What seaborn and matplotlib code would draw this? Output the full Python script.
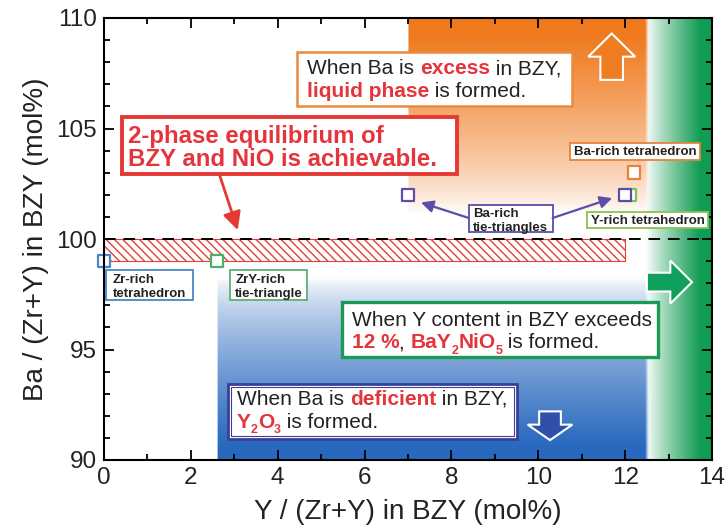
import numpy as np
import pandas as pd
import matplotlib
matplotlib.use("Agg")
import matplotlib.pyplot as plt
import matplotlib.patches as mpatches
import matplotlib.transforms as mtransforms
import seaborn as sns

# ---------------- data ----------------
pt_name = ["Zr-rich tetrahedron", "ZrY-rich tie-triangle", "Ba-rich tie-triangle (low Y)",
           "Y-rich tetrahedron", "Ba-rich tie-triangle (high Y)", "Ba-rich tetrahedron"]
pt_x = [0.0, 2.6, 7.0, 12.1, 12.0, 12.2]
pt_y = [99.0, 99.0, 102.0, 102.0, 102.0, 103.0]
pt_color = ["#4a86c8", "#4caf6a", "#5b4da8", "#7dc34d", "#5b4da8", "#e8823a"]

hatch_x = [0.0, 12.0]          # 2-phase window (Y content)
hatch_y = [99.0, 100.0]        # 2-phase window (Ba content)
stoich_y = 100.0               # dashed stoichiometric line
orange_x = [7.0, 12.55]        # Ba excess region
blue_x = [2.6, 12.55]          # Ba deficient region
green_x = [12.5, 14.0]         # Y > 12 % region

x_ticks = [0, 2, 4, 6, 8, 10, 12, 14]
y_ticks = [90, 95, 100, 105, 110]

# ---------------- style ----------------
sns.set_theme(style="ticks")
plt.rcParams["font.family"] = ["Liberation Sans", "DejaVu Sans"]
plt.rcParams["hatch.linewidth"] = 1.0
FAM = "Liberation Sans"
SMALL = 9.5

RED = "#e4343c"
BLACK = "#222222"

fig = plt.figure(figsize=(7.27, 5.29), dpi=100)
ax = fig.add_axes([104 / 727, 1 - 460 / 529, 608 / 727, 442 / 529])
ax.set_xlim(0, 14)
ax.set_ylim(90, 110)

# ---------------- background gradients ----------------
nx, ny = 700, 400
xs = np.linspace(0, 14, nx)
ys = np.linspace(90, 110, ny)
X, Y = np.meshgrid(xs, ys)
img = np.ones((ny, nx, 3))


def blend(img, rgb, alpha):
    c = np.array(rgb) / 255.0
    return img * (1 - alpha[..., None]) + c * alpha[..., None]


def band(x, lo, hi, soft_hi=0.08):
    return np.clip((x - lo) / 0.02, 0, 1) * np.clip((hi - x) / soft_hi, 0, 1)


a_or = band(X, *orange_x) * np.clip((Y - 101.2) / 8.0, 0, 1) ** 0.75
img = blend(img, (239, 122, 30), a_or)
a_bl = band(X, *blue_x) * np.clip((98.2 - Y) / 7.6, 0, 1) ** 0.7
img = blend(img, (40, 104, 190), a_bl)
a_gr = np.clip((X - green_x[0]) / (green_x[1] - green_x[0] - 0.25), 0, 1) ** 0.85
img = blend(img, (16, 156, 82), a_gr)
ax.imshow(img, extent=(0, 14, 90, 110), origin="lower", aspect="auto",
          zorder=0, interpolation="bilinear")

# hatched 2-phase window
ax.fill_between(hatch_x, hatch_y[0], hatch_y[1], facecolor="none",
                edgecolor="#e0403a", hatch="\\\\\\\\", linewidth=0.8, zorder=1)
ax.axhline(stoich_y, color="black", lw=1.4, dashes=(6, 4), zorder=2)

# ---------------- points ----------------
df = pd.DataFrame({"x": pt_x, "y": pt_y, "name": pt_name})
sns.scatterplot(data=df, x="x", y="y", hue="name", palette=dict(zip(pt_name, pt_color)),
                marker="s", s=80, facecolor="white", linewidth=1.6, legend=False,
                ax=ax, zorder=5, clip_on=False)
coll = ax.collections[-1]
coll.set_edgecolors(pt_color)
coll.set_facecolors(["white"] * len(pt_color))

# ---------------- helpers ----------------
renderer = fig.canvas.get_renderer()


def text_w(s, **kw):
    t = fig.text(0, 0, "x" + s + "x", **kw)
    w = t.get_window_extent(renderer).width
    t.remove()
    t = fig.text(0, 0, "xx", **kw)
    w2 = t.get_window_extent(renderer).width
    t.remove()
    return w - w2


def rich(x, y, segs, size, family=FAM):
    off = 0.0
    for s, color, weight, scale, dy in segs:
        kw = dict(color=color, fontweight=weight, fontsize=size * scale, family=family)
        tr = mtransforms.offset_copy(ax.transData, fig=fig, x=off, y=dy * size, units="dots")
        ax.text(x, y, s, va="baseline", ha="left", transform=tr, zorder=7, **kw)
        off += text_w(s, **kw)


def box(x0, x1, y0, y1, ec, lw):
    ax.add_patch(mpatches.Rectangle((x0, y0), x1 - x0, y1 - y0, facecolor="white",
                                    edgecolor=ec, lw=lw, zorder=6))


def N(s, c=BLACK):
    return (s, c, "normal", 1.0, 0)


def B(s, c=RED):
    return (s, c, "bold", 1.0, 0)


def SUB(s, c=RED):
    return (s, c, "bold", 0.6, -0.35)


# ---------------- Ba excess box ----------------
box(4.45, 10.78, 106.0, 108.45, "#e98a3c", 1.8)
rich(4.68, 107.45, [N("When Ba is "), B("excess"), N(" in BZY,")], 15)
rich(4.68, 106.42, [B("liquid phase"), N(" is formed.")], 15)

# ---------------- 2-phase box ----------------
box(0.42, 8.13, 102.95, 105.5, "#e53935", 2.8)
rich(0.55, 104.35, [B("2-phase equilibrium of")], 17.3)
rich(0.55, 103.3, [B("BZY and NiO is achievable.")], 17.3)
ax.annotate("", xy=(3.08, 100.4), xytext=(2.66, 102.9),
            arrowprops=dict(arrowstyle="-|>,head_length=0.9,head_width=0.45",
                            color="#e53935", lw=2.0, shrinkA=0, shrinkB=0), zorder=6)

# ---------------- small labels ----------------
def small_label(x0, x1, y0, y1, ec, lines, tx, ty, dy=0.62):
    box(x0, x1, y0, y1, ec, 1.3)
    for i, ln in enumerate(lines):
        ax.text(tx, ty - i * dy, ln, fontsize=SMALL, fontweight="bold", family=FAM,
                color=BLACK, va="baseline", ha="left", zorder=7)


small_label(10.73, 13.72, 103.57, 104.34, "#e8823a", ["Ba-rich tetrahedron"], 10.83, 103.78)
small_label(11.12, 13.9, 100.5, 101.2, "#8cc152", ["Y-rich tetrahedron"], 11.22, 100.7)
small_label(8.4, 10.33, 100.32, 101.54, "#5b4da8", ["Ba-rich", "tie-triangles"], 8.5, 101.0)
small_label(0.05, 2.05, 97.24, 98.6, "#4a86c8", ["Zr-rich", "tetrahedron"], 0.2, 98.0)
small_label(2.9, 4.67, 97.24, 98.6, "#5db075", ["ZrY-rich", "tie-triangle"], 3.02, 98.0)

for start, end in [((8.4, 100.95), (7.3, 101.65)), ((10.33, 100.95), (11.7, 101.85))]:
    ax.annotate("", xy=end, xytext=start,
                arrowprops=dict(arrowstyle="-|>,head_length=0.6,head_width=0.3",
                                color="#5b4da8", lw=1.6, shrinkA=0, shrinkB=0), zorder=6)

# ---------------- Y > 12 % box ----------------
box(5.48, 12.75, 94.68, 97.15, "#1b9a55", 2.4)
rich(5.7, 96.05, [N("When Y content in BZY exceeds")], 15)
rich(5.7, 95.05, [B("12 %"), N(", "), B("BaY"), SUB("2"), B("NiO"), SUB("5"), N(" is formed.")], 15)

# ---------------- Ba deficient box ----------------
box(2.85, 9.52, 90.95, 93.45, "#3b3f94", 2.0)
ax.add_patch(mpatches.Rectangle((2.92, 91.1), 9.45 - 2.92, 93.3 - 91.1, facecolor="none",
                                edgecolor="#3b3f94", lw=0.8, zorder=6.5))
rich(3.06, 92.5, [N("When Ba is "), B("deficient"), N(" in BZY,")], 15)
rich(3.06, 91.45, [B("Y"), SUB("2"), B("O"), SUB("3"), N(" is formed.")], 15)

# ---------------- block arrows ----------------
ax.add_patch(mpatches.FancyArrow(11.69, 107.2, 0, 2.1, width=0.52, head_width=1.08,
                                 head_length=1.05, length_includes_head=True,
                                 facecolor="#ee7d22", edgecolor="white", lw=1.5, zorder=6))
ax.add_patch(mpatches.FancyArrow(12.5, 98.05, 1.04, 0, width=0.85, head_width=1.95,
                                 head_length=0.5, length_includes_head=True,
                                 facecolor="#0ea05c", edgecolor="white", lw=1.5, zorder=6))
ax.add_patch(mpatches.FancyArrow(10.27, 92.2, 0, -1.3, width=0.5, head_width=1.03,
                                 head_length=0.7, length_includes_head=True,
                                 facecolor="#2f4fa8", edgecolor="white", lw=1.5, zorder=6))

# ---------------- axes ----------------
ax.set_xticks(x_ticks)
ax.set_yticks(y_ticks)
ax.set_xticks(np.arange(0, 14.1, 1), minor=True)
ax.set_yticks(np.arange(90, 110.1, 1), minor=True)
ax.tick_params(which="both", direction="in", top=True, right=True, width=1.3,
               colors="black", labelsize=17.5, labelcolor=BLACK)
ax.tick_params(which="major", length=7, pad=5)
ax.tick_params(which="minor", length=4)
for sp in ax.spines.values():
    sp.set_linewidth(1.5)
    sp.set_color("black")
    sp.set_zorder(8)
ax.set_xlabel("Y / (Zr+Y) in BZY (mol%)", fontsize=20, color=BLACK, labelpad=7)
ax.set_ylabel("Ba / (Zr+Y) in BZY (mol%)", fontsize=20, color=BLACK, labelpad=5)

fig.savefig("out.png", dpi=100)
